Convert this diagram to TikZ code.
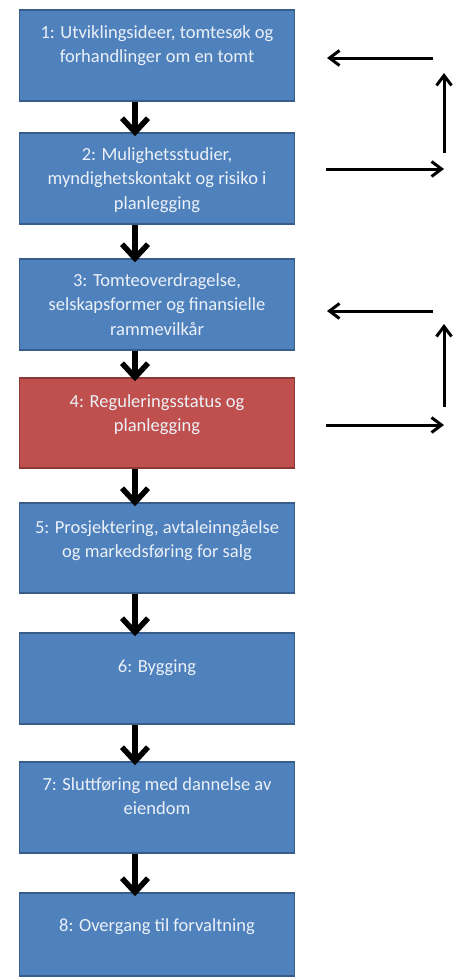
\documentclass[tikz,border=0pt]{standalone}
\usepackage{fontspec}
\setmainfont{Carlito}
\usetikzlibrary{arrows.meta,calc}
\definecolor{boxblue}{RGB}{79,129,189}
\definecolor{boxblueline}{RGB}{56,93,138}
\definecolor{boxred}{RGB}{192,80,77}
\definecolor{boxredline}{RGB}{140,56,54}
\definecolor{txt}{RGB}{236,241,248}
\begin{document}
\begin{tikzpicture}[x=1pt,y=-1pt,
  box/.style={rectangle, draw=boxblueline, fill=boxblue, line width=1.5pt,
    minimum width=275pt, inner sep=0pt},
  redbox/.style={box, draw=boxredline, fill=boxred},
  lbl/.style={anchor=north, inner sep=0pt, align=center, text=txt,
    font=\fontsize{18.5}{24.5}\selectfont},
  down/.style={line width=5.5pt, shorten >=-4pt,
    -{Straight Barb[length=14pt,width=26pt]}},
  side/.style={line width=3pt, -{Straight Barb[length=10pt,width=15pt]}}]
\useasboundingbox (0,0) rectangle (459,977);
\fill[white] (0,0) rectangle (459,977);

% boxes
\node[box, minimum height=91pt] (b1) at (157,55.5) {};
\node[box, minimum height=91pt] (b2) at (157,178.5) {};
\node[box, minimum height=91pt] (b3) at (157,304.5) {};
\node[redbox, minimum height=90pt] (b4) at (157,423) {};
\node[box, minimum height=90pt] (b5) at (157,548) {};
\node[box, minimum height=91pt] (b6) at (157,678.5) {};
\node[box, minimum height=91pt] (b7) at (157,807.5) {};
\node[box, minimum height=83pt] (b8) at (157,934.5) {};

% texts (first baseline = box top + offset; strut of 16pt)
\node[lbl] (t1) at ([yshift=-13pt]b1.north) {\rule{0pt}{16pt}1: Utviklingsideer, tomtesøk og\\forhandlinger om en tomt};
\node[lbl] (t2) at ([yshift=-12pt]b2.north) {\rule{0pt}{16pt}2: Mulighetsstudier,\\myndighetskontakt og risiko i\\planlegging};
\node[lbl] (t3) at ([yshift=-12pt]b3.north) {\rule{0pt}{16pt}3: Tomteoverdragelse,\\selskapsformer og finansielle\\rammevilkår};
\node[lbl] (t4) at ([yshift=-14pt]b4.north) {\rule{0pt}{16pt}4: Reguleringsstatus og\\planlegging};
\node[lbl] (t5) at ([yshift=-15pt]b5.north) {\rule{0pt}{16pt}5: Prosjektering, avtaleinngåelse\\og markedsføring for salg};
\node[lbl] (t6) at ([yshift=-24pt]b6.north) {\rule{0pt}{16pt}6: Bygging};
\node[lbl] (t7) at ([yshift=-13pt]b7.north) {\rule{0pt}{16pt}7: Sluttføring med dannelse av\\eiendom};
\node[lbl] (t8) at ([yshift=-23pt]b8.north) {\rule{0pt}{16pt}8: Overgang til forvaltning};

% down arrows
\coordinate (ax) at (135,0);
\draw[down] (b1.south -| ax) -- (b2.north -| ax);
\draw[down] (b2.south -| ax) -- (b3.north -| ax);
\draw[down] (b3.south -| ax) -- (b4.north -| ax);
\draw[down] (b4.south -| ax) -- (b5.north -| ax);
\draw[down] (b5.south -| ax) -- (b6.north -| ax);
\draw[down] (b6.south -| ax) -- (b7.north -| ax);
\draw[down] (b7.south -| ax) -- (b8.north -| ax);

% side loop 1
\coordinate (l1a) at (433,58);
\coordinate (l1b) at (327,58);
\coordinate (u1a) at (444,153);
\coordinate (u1b) at (444,73);
\coordinate (r1a) at (326,169);
\coordinate (r1b) at (444,169);
\draw[side] (l1a) -- (l1b);
\draw[side] (u1a) -- (u1b);
\draw[side] (r1a) -- (r1b);

% side loop 2
\coordinate (l2a) at (433,311);
\coordinate (l2b) at (327,311);
\coordinate (u2a) at (444,407);
\coordinate (u2b) at (444,324);
\coordinate (r2a) at (326,425);
\coordinate (r2b) at (444,425);
\draw[side] (l2a) -- (l2b);
\draw[side] (u2a) -- (u2b);
\draw[side] (r2a) -- (r2b);
\end{tikzpicture}
\end{document}
